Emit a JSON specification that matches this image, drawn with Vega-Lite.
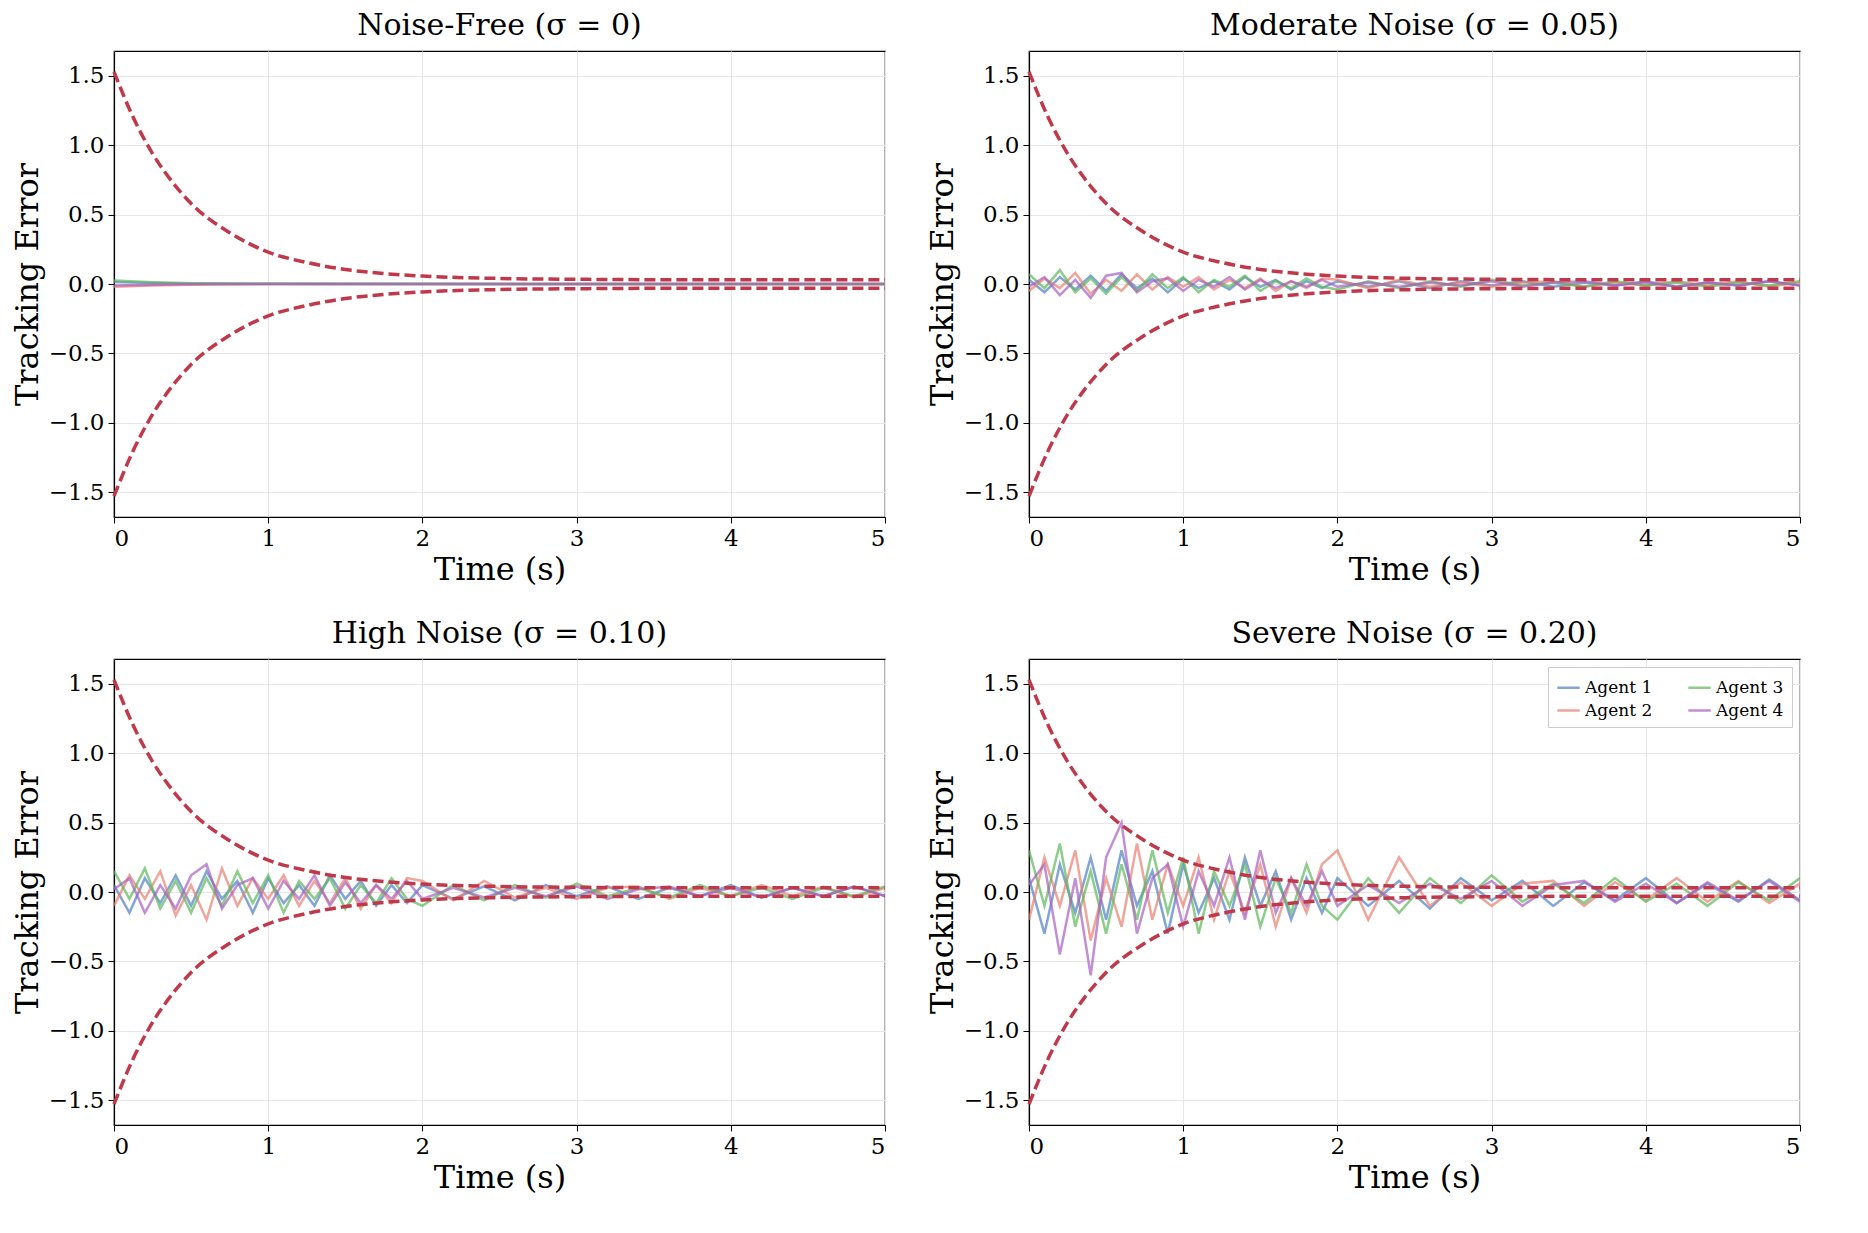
{
"$schema":"https://vega.github.io/schema/vega-lite/v6.json",
"padding":{"left":10,"top":10,"right":10,"bottom":5},
"background":"white",
"resolve":{"scale":{"color":"independent"},"legend":{"color":"independent"}},
"config":{"font":"DejaVu Serif","view":{"stroke":"black","strokeWidth":1.2},
"axis":{"labelFont":"DejaVu Serif","titleFont":"DejaVu Serif","labelFontSize":23,"titleFontSize":32,"titleFontWeight":"normal","labelColor":"black","titleColor":"black","gridColor":"#e6e6e6","tickColor":"black","domain":true,"domainColor":"black","domainWidth":1.2,"tickSize":6,"labelPadding":4},
"title":{"font":"DejaVu Serif","fontSize":30,"fontWeight":"normal","offset":10},
"concat":{"spacing":32}},
"datasets":{
"env":[{"t":0,"u":1.53,"l":-1.53},{"t":0.125,"u":1.2,"l":-1.2},{"t":0.25,"u":0.94,"l":-0.94},{"t":0.375,"u":0.74,"l":-0.74},{"t":0.5,"u":0.58,"l":-0.58},{"t":0.75,"u":0.37,"l":-0.37},{"t":1,"u":0.23,"l":-0.23},{"t":1.25,"u":0.155,"l":-0.155},{"t":1.5,"u":0.105,"l":-0.105},{"t":1.75,"u":0.075,"l":-0.075},{"t":2,"u":0.057,"l":-0.057},{"t":2.5,"u":0.04,"l":-0.04},{"t":3,"u":0.034,"l":-0.034},{"t":3.5,"u":0.031,"l":-0.031},{"t":4,"u":0.03,"l":-0.03},{"t":5,"u":0.03,"l":-0.03}],
"noise":[
{"p":"f","t":0,"a1":0.015,"a2":-0.02,"a3":0.025,"a4":-0.01},{"p":"f","t":0.25,"a1":0.008,"a2":-0.01,"a3":0.012,"a4":-0.005},{"p":"f","t":0.5,"a1":0.004,"a2":-0.005,"a3":0.005,"a4":-0.002},{"p":"f","t":1,"a1":0.001,"a2":-0.001,"a3":0.001,"a4":0},{"p":"f","t":5,"a1":0,"a2":0,"a3":0,"a4":0},
{"p":"m","t":0,"a1":0.03,"a2":-0.05,"a3":0.07,"a4":-0.02},{"p":"m","t":0.1,"a1":-0.06,"a2":0.04,"a3":-0.03,"a4":0.05},{"p":"m","t":0.2,"a1":0.05,"a2":-0.03,"a3":0.1,"a4":-0.08},{"p":"m","t":0.3,"a1":-0.04,"a2":0.08,"a3":-0.06,"a4":0.03},{"p":"m","t":0.4,"a1":0.06,"a2":-0.07,"a3":0.04,"a4":-0.1},{"p":"m","t":0.5,"a1":-0.05,"a2":0.03,"a3":-0.07,"a4":0.06},{"p":"m","t":0.6,"a1":0.07,"a2":-0.05,"a3":0.05,"a4":0.08},{"p":"m","t":0.7,"a1":-0.03,"a2":0.07,"a3":-0.05,"a4":-0.06},{"p":"m","t":0.8,"a1":0.04,"a2":-0.04,"a3":0.07,"a4":0.02},{"p":"m","t":0.9,"a1":-0.06,"a2":0.05,"a3":-0.03,"a4":0.04},{"p":"m","t":1,"a1":0.04,"a2":-0.02,"a3":0.05,"a4":-0.05},{"p":"m","t":1.1,"a1":-0.03,"a2":0.05,"a3":-0.06,"a4":0.03},{"p":"m","t":1.2,"a1":0.02,"a2":-0.04,"a3":0.03,"a4":-0.02},{"p":"m","t":1.3,"a1":-0.04,"a2":0.03,"a3":-0.02,"a4":0.05},{"p":"m","t":1.4,"a1":0.05,"a2":-0.03,"a3":0.06,"a4":-0.04},{"p":"m","t":1.5,"a1":-0.02,"a2":0.04,"a3":-0.05,"a4":0.03},{"p":"m","t":1.6,"a1":0.03,"a2":-0.05,"a3":0.02,"a4":-0.03},{"p":"m","t":1.7,"a1":-0.04,"a2":0.02,"a3":-0.03,"a4":0.02},{"p":"m","t":1.8,"a1":0.02,"a2":-0.03,"a3":0.04,"a4":-0.02},{"p":"m","t":1.9,"a1":-0.03,"a2":0.04,"a3":-0.02,"a4":0.03},{"p":"m","t":2,"a1":0.02,"a2":0.03,"a3":-0.04,"a4":-0.02},{"p":"m","t":2.2,"a1":-0.02,"a2":-0.03,"a3":0.02,"a4":0.01},{"p":"m","t":2.4,"a1":0.02,"a2":0.03,"a3":-0.03,"a4":-0.02},{"p":"m","t":2.6,"a1":-0.03,"a2":-0.02,"a3":0.02,"a4":0.01},{"p":"m","t":2.8,"a1":0.02,"a2":0.01,"a3":-0.02,"a4":-0.01},{"p":"m","t":3,"a1":-0.01,"a2":-0.02,"a3":0.03,"a4":0.02},{"p":"m","t":3.2,"a1":0.02,"a2":0.01,"a3":-0.01,"a4":-0.02},{"p":"m","t":3.4,"a1":-0.02,"a2":0.02,"a3":0.01,"a4":0.01},{"p":"m","t":3.6,"a1":0.01,"a2":-0.02,"a3":-0.02,"a4":0.02},{"p":"m","t":3.8,"a1":-0.01,"a2":0.01,"a3":0.02,"a4":-0.01},{"p":"m","t":4,"a1":0.02,"a2":-0.01,"a3":-0.01,"a4":0.01},{"p":"m","t":4.2,"a1":-0.02,"a2":0.02,"a3":0.01,"a4":-0.02},{"p":"m","t":4.4,"a1":0.01,"a2":-0.01,"a3":-0.02,"a4":0.01},{"p":"m","t":4.6,"a1":-0.01,"a2":0.02,"a3":0.01,"a4":-0.01},{"p":"m","t":4.8,"a1":0.02,"a2":-0.02,"a3":-0.01,"a4":0.02},{"p":"m","t":5,"a1":-0.01,"a2":0.01,"a3":0.02,"a4":-0.01},
{"p":"h","t":0,"a1":0.05,"a2":-0.1,"a3":0.15,"a4":0.02},{"p":"h","t":0.1,"a1":-0.15,"a2":0.12,"a3":-0.05,"a4":0.1},{"p":"h","t":0.2,"a1":0.1,"a2":-0.05,"a3":0.17,"a4":-0.15},{"p":"h","t":0.3,"a1":-0.08,"a2":0.15,"a3":-0.12,"a4":0.05},{"p":"h","t":0.4,"a1":0.12,"a2":-0.17,"a3":0.08,"a4":-0.12},{"p":"h","t":0.5,"a1":-0.1,"a2":0.05,"a3":-0.15,"a4":0.12},{"p":"h","t":0.6,"a1":0.15,"a2":-0.2,"a3":0.1,"a4":0.2},{"p":"h","t":0.7,"a1":-0.05,"a2":0.17,"a3":-0.1,"a4":-0.12},{"p":"h","t":0.8,"a1":0.08,"a2":-0.1,"a3":0.15,"a4":0.05},{"p":"h","t":0.9,"a1":-0.15,"a2":0.1,"a3":-0.08,"a4":0.1},{"p":"h","t":1,"a1":0.1,"a2":-0.05,"a3":0.12,"a4":-0.12},{"p":"h","t":1.1,"a1":-0.08,"a2":0.12,"a3":-0.15,"a4":0.08},{"p":"h","t":1.2,"a1":0.05,"a2":-0.1,"a3":0.08,"a4":-0.05},{"p":"h","t":1.3,"a1":-0.1,"a2":0.08,"a3":-0.05,"a4":0.12},{"p":"h","t":1.4,"a1":0.12,"a2":-0.08,"a3":0.1,"a4":-0.1},{"p":"h","t":1.5,"a1":-0.05,"a2":0.1,"a3":-0.12,"a4":0.07},{"p":"h","t":1.6,"a1":0.08,"a2":-0.12,"a3":0.05,"a4":-0.08},{"p":"h","t":1.7,"a1":-0.1,"a2":0.05,"a3":-0.08,"a4":0.05},{"p":"h","t":1.8,"a1":0.05,"a2":-0.08,"a3":0.1,"a4":-0.05},{"p":"h","t":1.9,"a1":-0.08,"a2":0.1,"a3":-0.05,"a4":0.08},{"p":"h","t":2,"a1":0.05,"a2":0.08,"a3":-0.1,"a4":-0.05},{"p":"h","t":2.2,"a1":-0.05,"a2":-0.06,"a3":0.05,"a4":0.03},{"p":"h","t":2.4,"a1":0.04,"a2":0.08,"a3":-0.06,"a4":-0.04},{"p":"h","t":2.6,"a1":-0.06,"a2":-0.04,"a3":0.05,"a4":0.03},{"p":"h","t":2.8,"a1":0.05,"a2":0.03,"a3":-0.04,"a4":-0.03},{"p":"h","t":3,"a1":-0.03,"a2":-0.05,"a3":0.06,"a4":0.04},{"p":"h","t":3.2,"a1":0.04,"a2":0.03,"a3":-0.03,"a4":-0.05},{"p":"h","t":3.4,"a1":-0.05,"a2":0.04,"a3":0.03,"a4":0.02},{"p":"h","t":3.6,"a1":0.03,"a2":-0.05,"a3":-0.04,"a4":0.04},{"p":"h","t":3.8,"a1":-0.03,"a2":0.03,"a3":0.05,"a4":-0.03},{"p":"h","t":4,"a1":0.05,"a2":-0.03,"a3":-0.03,"a4":0.03},{"p":"h","t":4.2,"a1":-0.04,"a2":0.05,"a3":0.03,"a4":-0.04},{"p":"h","t":4.4,"a1":0.03,"a2":-0.03,"a3":-0.05,"a4":0.03},{"p":"h","t":4.6,"a1":-0.03,"a2":0.04,"a3":0.03,"a4":-0.03},{"p":"h","t":4.8,"a1":0.04,"a2":-0.04,"a3":-0.03,"a4":0.04},{"p":"h","t":5,"a1":-0.03,"a2":0.03,"a3":0.04,"a4":-0.03},
{"p":"s","t":0,"a1":0.1,"a2":-0.2,"a3":0.3,"a4":0.05},{"p":"s","t":0.1,"a1":-0.3,"a2":0.25,"a3":-0.1,"a4":0.2},{"p":"s","t":0.2,"a1":0.2,"a2":-0.1,"a3":0.35,"a4":-0.45},{"p":"s","t":0.3,"a1":-0.15,"a2":0.3,"a3":-0.25,"a4":0.1},{"p":"s","t":0.4,"a1":0.25,"a2":-0.35,"a3":0.15,"a4":-0.6},{"p":"s","t":0.5,"a1":-0.2,"a2":0.1,"a3":-0.3,"a4":0.25},{"p":"s","t":0.6,"a1":0.3,"a2":-0.25,"a3":0.2,"a4":0.5},{"p":"s","t":0.7,"a1":-0.1,"a2":0.35,"a3":-0.2,"a4":-0.3},{"p":"s","t":0.8,"a1":0.15,"a2":-0.2,"a3":0.3,"a4":0.1},{"p":"s","t":0.9,"a1":-0.3,"a2":0.2,"a3":-0.15,"a4":0.2},{"p":"s","t":1,"a1":0.2,"a2":-0.1,"a3":0.25,"a4":-0.25},{"p":"s","t":1.1,"a1":-0.15,"a2":0.25,"a3":-0.3,"a4":0.15},{"p":"s","t":1.2,"a1":0.1,"a2":-0.2,"a3":0.15,"a4":-0.1},{"p":"s","t":1.3,"a1":-0.2,"a2":0.15,"a3":-0.1,"a4":0.25},{"p":"s","t":1.4,"a1":0.25,"a2":-0.15,"a3":0.2,"a4":-0.2},{"p":"s","t":1.5,"a1":-0.1,"a2":0.2,"a3":-0.25,"a4":0.3},{"p":"s","t":1.6,"a1":0.15,"a2":-0.25,"a3":0.1,"a4":-0.15},{"p":"s","t":1.7,"a1":-0.2,"a2":0.1,"a3":-0.15,"a4":0.1},{"p":"s","t":1.8,"a1":0.1,"a2":-0.15,"a3":0.2,"a4":-0.1},{"p":"s","t":1.9,"a1":-0.15,"a2":0.2,"a3":-0.1,"a4":0.15},{"p":"s","t":2,"a1":0.1,"a2":0.3,"a3":-0.2,"a4":-0.1},{"p":"s","t":2.2,"a1":-0.1,"a2":-0.2,"a3":0.1,"a4":0.05},{"p":"s","t":2.4,"a1":0.08,"a2":0.25,"a3":-0.15,"a4":-0.08},{"p":"s","t":2.6,"a1":-0.12,"a2":-0.1,"a3":0.1,"a4":0.06},{"p":"s","t":2.8,"a1":0.1,"a2":0.07,"a3":-0.08,"a4":-0.05},{"p":"s","t":3,"a1":-0.06,"a2":-0.1,"a3":0.12,"a4":0.08},{"p":"s","t":3.2,"a1":0.08,"a2":0.06,"a3":-0.07,"a4":-0.1},{"p":"s","t":3.4,"a1":-0.1,"a2":0.08,"a3":0.06,"a4":0.05},{"p":"s","t":3.6,"a1":0.07,"a2":-0.1,"a3":-0.08,"a4":0.08},{"p":"s","t":3.8,"a1":-0.06,"a2":0.07,"a3":0.1,"a4":-0.07},{"p":"s","t":4,"a1":0.1,"a2":-0.06,"a3":-0.07,"a4":0.06},{"p":"s","t":4.2,"a1":-0.08,"a2":0.1,"a3":0.06,"a4":-0.08},{"p":"s","t":4.4,"a1":0.06,"a2":-0.07,"a3":-0.1,"a4":0.07},{"p":"s","t":4.6,"a1":-0.07,"a2":0.08,"a3":0.07,"a4":-0.06},{"p":"s","t":4.8,"a1":0.09,"a2":-0.08,"a3":-0.06,"a4":0.08},{"p":"s","t":5,"a1":-0.06,"a2":0.06,"a3":0.1,"a4":-0.07}
]},
"vconcat":[
{"hconcat":[
{"width":771,"height":466,"title":"Noise-Free (σ = 0)","layer":[
{"data":{"name":"noise"},"transform":[{"filter":"datum.p=='f'"},{"fold":["a1","a2","a3","a4"],"as":["agent","e"]}],"mark":{"type":"line","strokeWidth":2.5,"opacity":0.7,"clip":true},"encoding":{"x":{"field":"t","type":"quantitative","scale":{"domain":[0,5],"nice":false},"axis":{"values":[0,1,2,3,4,5],"format":"d","title":"Time (s)"}},"y":{"field":"e","type":"quantitative","scale":{"domain":[-1.68,1.68],"nice":false},"axis":{"values":[-1.5,-1,-0.5,0,0.5,1,1.5],"format":".1f","title":"Tracking Error"}},"color":{"field":"agent","type":"nominal","scale":{"domain":["a1","a2","a3","a4"],"range":["#4e7fc4","#e87f6f","#5db85a","#a85fbf"]},"legend":null}}},
{"data":{"name":"env"},"mark":{"type":"line","color":"#c0394a","strokeWidth":3.5,"strokeDash":[11,5],"interpolate":"monotone"},"encoding":{"x":{"field":"t","type":"quantitative"},"y":{"field":"u","type":"quantitative"}}},
{"data":{"name":"env"},"mark":{"type":"line","color":"#c0394a","strokeWidth":3.5,"strokeDash":[11,5],"interpolate":"monotone"},"encoding":{"x":{"field":"t","type":"quantitative"},"y":{"field":"l","type":"quantitative"}}}]},
{"width":771,"height":466,"title":"Moderate Noise (σ = 0.05)","layer":[
{"data":{"name":"noise"},"transform":[{"filter":"datum.p=='m'"},{"fold":["a1","a2","a3","a4"],"as":["agent","e"]}],"mark":{"type":"line","strokeWidth":2.5,"opacity":0.7,"clip":true},"encoding":{"x":{"field":"t","type":"quantitative","scale":{"domain":[0,5],"nice":false},"axis":{"values":[0,1,2,3,4,5],"format":"d","title":"Time (s)"}},"y":{"field":"e","type":"quantitative","scale":{"domain":[-1.68,1.68],"nice":false},"axis":{"values":[-1.5,-1,-0.5,0,0.5,1,1.5],"format":".1f","title":"Tracking Error"}},"color":{"field":"agent","type":"nominal","scale":{"domain":["a1","a2","a3","a4"],"range":["#4e7fc4","#e87f6f","#5db85a","#a85fbf"]},"legend":null}}},
{"data":{"name":"env"},"mark":{"type":"line","color":"#c0394a","strokeWidth":3.5,"strokeDash":[11,5],"interpolate":"monotone"},"encoding":{"x":{"field":"t","type":"quantitative"},"y":{"field":"u","type":"quantitative"}}},
{"data":{"name":"env"},"mark":{"type":"line","color":"#c0394a","strokeWidth":3.5,"strokeDash":[11,5],"interpolate":"monotone"},"encoding":{"x":{"field":"t","type":"quantitative"},"y":{"field":"l","type":"quantitative"}}}]}
]},
{"hconcat":[
{"width":771,"height":466,"title":"High Noise (σ = 0.10)","layer":[
{"data":{"name":"noise"},"transform":[{"filter":"datum.p=='h'"},{"fold":["a1","a2","a3","a4"],"as":["agent","e"]}],"mark":{"type":"line","strokeWidth":2.5,"opacity":0.7,"clip":true},"encoding":{"x":{"field":"t","type":"quantitative","scale":{"domain":[0,5],"nice":false},"axis":{"values":[0,1,2,3,4,5],"format":"d","title":"Time (s)"}},"y":{"field":"e","type":"quantitative","scale":{"domain":[-1.68,1.68],"nice":false},"axis":{"values":[-1.5,-1,-0.5,0,0.5,1,1.5],"format":".1f","title":"Tracking Error"}},"color":{"field":"agent","type":"nominal","scale":{"domain":["a1","a2","a3","a4"],"range":["#4e7fc4","#e87f6f","#5db85a","#a85fbf"]},"legend":null}}},
{"data":{"name":"env"},"mark":{"type":"line","color":"#c0394a","strokeWidth":3.5,"strokeDash":[11,5],"interpolate":"monotone"},"encoding":{"x":{"field":"t","type":"quantitative"},"y":{"field":"u","type":"quantitative"}}},
{"data":{"name":"env"},"mark":{"type":"line","color":"#c0394a","strokeWidth":3.5,"strokeDash":[11,5],"interpolate":"monotone"},"encoding":{"x":{"field":"t","type":"quantitative"},"y":{"field":"l","type":"quantitative"}}}]},
{"width":771,"height":466,"title":"Severe Noise (σ = 0.20)","resolve":{"scale":{"color":"independent"}},"layer":[
{"data":{"name":"noise"},"transform":[{"filter":"datum.p=='s'"},{"fold":["a1","a2","a3","a4"],"as":["agent","e"]}],"mark":{"type":"line","strokeWidth":2.5,"opacity":0.7,"clip":true},"encoding":{"x":{"field":"t","type":"quantitative","scale":{"domain":[0,5],"nice":false},"axis":{"values":[0,1,2,3,4,5],"format":"d","title":"Time (s)"}},"y":{"field":"e","type":"quantitative","scale":{"domain":[-1.68,1.68],"nice":false},"axis":{"values":[-1.5,-1,-0.5,0,0.5,1,1.5],"format":".1f","title":"Tracking Error"}},"color":{"field":"agent","type":"nominal","scale":{"domain":["a1","a2","a3","a4"],"range":["#4e7fc4","#e87f6f","#5db85a","#a85fbf"]},"legend":{"orient":"top-right","title":null,"columns":2,"labelFont":"DejaVu Serif","labelFontSize":17,"labelColor":"black","symbolType":"stroke","symbolStrokeWidth":2.5,"symbolSize":500,"strokeColor":"#cccccc","fillColor":"white","padding":8,"columnPadding":30,"offset":8,"labelExpr":"'Agent ' + slice(datum.label,1)"}}}},
{"data":{"name":"env"},"mark":{"type":"line","color":"#c0394a","strokeWidth":3.5,"strokeDash":[11,5],"interpolate":"monotone"},"encoding":{"x":{"field":"t","type":"quantitative"},"y":{"field":"u","type":"quantitative"}}},
{"data":{"name":"env"},"mark":{"type":"line","color":"#c0394a","strokeWidth":3.5,"strokeDash":[11,5],"interpolate":"monotone"},"encoding":{"x":{"field":"t","type":"quantitative"},"y":{"field":"l","type":"quantitative"}}}]}
]}
]}
